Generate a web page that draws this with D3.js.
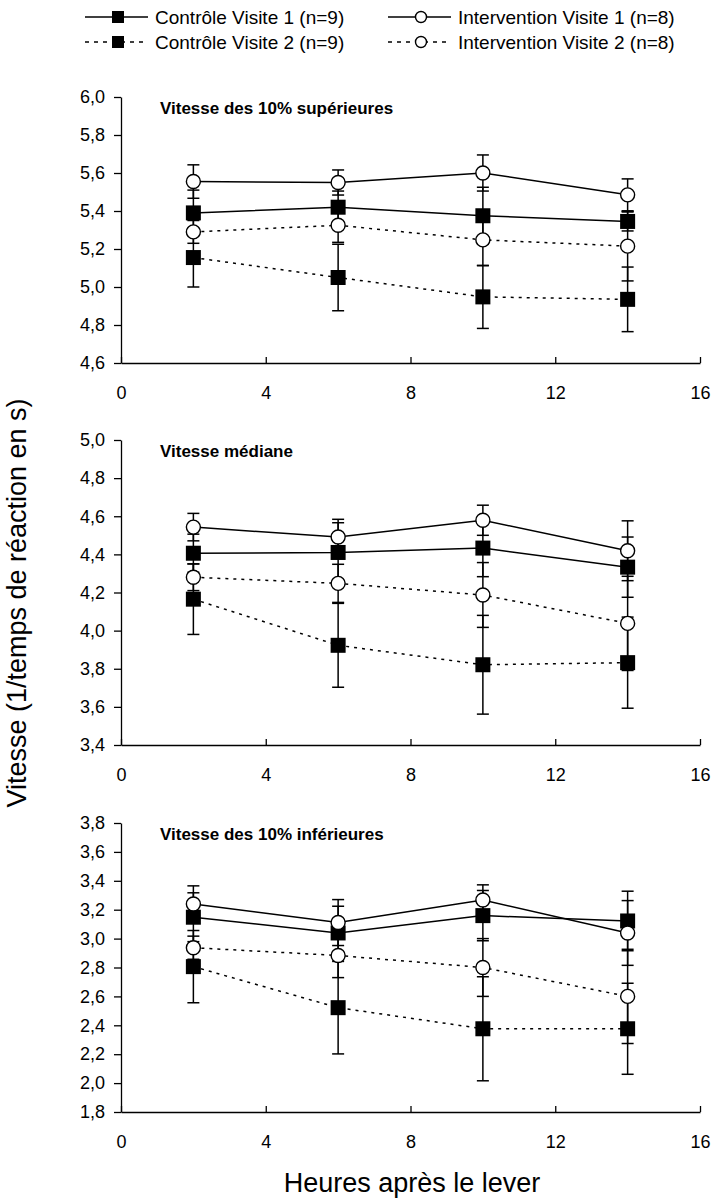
<!DOCTYPE html>
<html>
<head>
<meta charset="utf-8">
<script src="https://cdn.jsdelivr.net/npm/d3@7"></script>
<style>
  body { margin: 0; background: #fff; }
  svg text { font-family: "Liberation Sans", Arial, sans-serif; fill: #000; }
</style>
</head>
<body>
<div id="chart"></div>
<script>
// Hours after waking
const hours = [2, 6, 10, 14];
const xTicks = [0, 4, 8, 12, 16];

const seriesNames = [
    "Contrôle Visite 1 (n=9)",
    "Intervention Visite 1 (n=8)",
    "Contrôle Visite 2 (n=9)",
    "Intervention Visite 2 (n=8)"
];

// Panel 1: fastest 10%
const topCtrlV1 = [5.39, 5.42, 5.375, 5.345];
const topCtrlV1Err = [0.12, 0.085, 0.15, 0.05];
const topIntV1 = [5.555, 5.55, 5.6, 5.485];
const topIntV1Err = [0.088, 0.066, 0.095, 0.084];
const topCtrlV2 = [5.155, 5.05, 4.948, 4.935];
const topCtrlV2Err = [0.155, 0.175, 0.166, 0.17];
const topIntV2 = [5.29, 5.325, 5.248, 5.215];
const topIntV2Err = [0.06, 0.09, 0.136, 0.183];

// Panel 2: median
const medCtrlV1 = [4.406, 4.41, 4.433, 4.333];
const medCtrlV1Err = [0.1, 0.156, 0.15, 0.158];
const medIntV1 = [4.543, 4.491, 4.579, 4.419];
const medIntV1Err = [0.072, 0.093, 0.079, 0.157];
const medCtrlV2 = [4.165, 3.923, 3.821, 3.832];
const medCtrlV2Err = [0.185, 0.22, 0.259, 0.239];
const medIntV2 = [4.28, 4.248, 4.187, 4.038];
const medIntV2Err = [0.07, 0.1, 0.17, 0.247];

// Panel 3: slowest 10%
const lowCtrlV1 = [3.148, 3.039, 3.159, 3.122];
const lowCtrlV1Err = [0.169, 0.185, 0.174, 0.206];
const lowIntV1 = [3.239, 3.111, 3.267, 3.039];
const lowIntV1Err = [0.126, 0.159, 0.105, 0.224];
const lowCtrlV2 = [2.806, 2.522, 2.376, 2.376];
const lowCtrlV2Err = [0.25, 0.32, 0.36, 0.315];
const lowIntV2 = [2.937, 2.883, 2.8, 2.6];
const lowIntV2Err = [0.08, 0.153, 0.2, 0.326];

const panelTitles = ["Vitesse des 10% supérieures", "Vitesse médiane", "Vitesse des 10% inférieures"];
const panelDomains = [[4.6, 6.0], [3.4, 5.0], [1.8, 3.8]];

const panels = [
    { title: panelTitles[0], domain: panelDomains[0], top: 97, bottom: 363,
      series: [[topCtrlV1, topCtrlV1Err], [topIntV1, topIntV1Err], [topCtrlV2, topCtrlV2Err], [topIntV2, topIntV2Err]] },
    { title: panelTitles[1], domain: panelDomains[1], top: 440, bottom: 745,
      series: [[medCtrlV1, medCtrlV1Err], [medIntV1, medIntV1Err], [medCtrlV2, medCtrlV2Err], [medIntV2, medIntV2Err]] },
    { title: panelTitles[2], domain: panelDomains[2], top: 823, bottom: 1112,
      series: [[lowCtrlV1, lowCtrlV1Err], [lowIntV1, lowIntV1Err], [lowCtrlV2, lowCtrlV2Err], [lowIntV2, lowIntV2Err]] }
];

// series styles: square = control, circle = intervention; dashed = visit 2
const styles = [
    { marker: "square", dash: null },
    { marker: "circle", dash: null },
    { marker: "square", dash: "3,5" },
    { marker: "circle", dash: "3,5" }
];

const width = 715, height = 1199;
const svg = d3.select("#chart").append("svg")
    .attr("width", width)
    .attr("height", height);

const xScale = d3.scaleLinear().domain([0, 16]).range([121, 700]);
const fmt = v => d3.format(".1f")(v).replace(".", ",");

function drawMarker(g, type, x, y, size) {
    if (type === "square") {
        g.append("rect")
            .attr("x", x - size / 2).attr("y", y - size / 2)
            .attr("width", size).attr("height", size)
            .attr("fill", "#000");
    } else {
        g.append("circle")
            .attr("cx", x).attr("cy", y).attr("r", size / 2 - 0.5)
            .attr("fill", "#fff")
            .attr("stroke", "#000")
            .attr("stroke-width", 1.4);
    }
}

panels.forEach(p => {
    const yScale = d3.scaleLinear().domain(p.domain).range([p.bottom, p.top]);
    const g = svg.append("g");

    // Y axis
    const nTicks = Math.round((p.domain[1] - p.domain[0]) / 0.2);
    const yTicks = d3.range(nTicks + 1).map(i => +(p.domain[0] + i * 0.2).toFixed(1));
    const yAxis = g.append("g")
        .attr("transform", `translate(${xScale(0)},0)`)
        .call(d3.axisLeft(yScale).tickValues(yTicks).tickSize(7).tickSizeOuter(0).tickPadding(9).tickFormat(fmt));
    yAxis.select(".domain").attr("stroke", "#000").attr("stroke-width", 1.3);
    yAxis.selectAll(".tick line").attr("stroke", "#000").attr("stroke-width", 1.3);
    yAxis.selectAll("text").style("font-size", "18px");

    // X axis
    const xAxis = g.append("g")
        .attr("transform", `translate(0,${p.bottom})`)
        .call(d3.axisBottom(xScale).tickValues(xTicks).tickSize(-6).tickSizeOuter(0).tickPadding(23));
    xAxis.select(".domain").attr("stroke", "#000").attr("stroke-width", 1.3);
    xAxis.selectAll(".tick line").attr("stroke", "#000").attr("stroke-width", 1.3);
    xAxis.selectAll("text").style("font-size", "18px");

    // Panel title
    g.append("text")
        .attr("x", 160)
        .attr("y", p.top + 17)
        .style("font-size", "17px")
        .style("font-weight", "bold")
        .text(p.title);

    // Error bars
    p.series.forEach(([vals, errs]) => {
        vals.forEach((v, i) => {
            const x = xScale(hours[i]);
            const y1 = yScale(v - errs[i]), y2 = yScale(v + errs[i]);
            g.append("line").attr("x1", x).attr("x2", x).attr("y1", y1).attr("y2", y2)
                .attr("stroke", "#000").attr("stroke-width", 1.5);
            [y1, y2].forEach(yy => g.append("line")
                .attr("x1", x - 6).attr("x2", x + 6).attr("y1", yy).attr("y2", yy)
                .attr("stroke", "#000").attr("stroke-width", 1.5));
        });
    });

    // Lines
    const line = d3.line().x((d, i) => xScale(hours[i])).y(d => yScale(d));
    p.series.forEach(([vals], si) => {
        g.append("path")
            .datum(vals)
            .attr("d", line)
            .attr("fill", "none")
            .attr("stroke", "#000")
            .attr("stroke-width", 1.5)
            .attr("stroke-dasharray", styles[si].dash);
    });

    // Markers
    p.series.forEach(([vals], si) => {
        vals.forEach((v, i) => drawMarker(g, styles[si].marker, xScale(hours[i]), yScale(v), 15));
    });
});

// Legend
const legendPos = [
    { x: 85, y: 17 }, { x: 388, y: 17 },
    { x: 85, y: 42 }, { x: 388, y: 42 }
];
seriesNames.forEach((name, i) => {
    const lp = legendPos[i];
    const lg = svg.append("g");
    lg.append("line")
        .attr("x1", lp.x).attr("x2", lp.x + 63)
        .attr("y1", lp.y).attr("y2", lp.y)
        .attr("stroke", "#000").attr("stroke-width", 1.5)
        .attr("stroke-dasharray", i >= 2 ? "4,5" : null);
    drawMarker(lg, styles[i].marker, lp.x + 33, lp.y, 12);
    lg.append("text")
        .attr("x", lp.x + 70)
        .attr("y", lp.y)
        .attr("dy", "0.35em")
        .style("font-size", "19px")
        .text(name);
});

// Axis titles
svg.append("text")
    .attr("x", 412)
    .attr("y", 1192)
    .attr("text-anchor", "middle")
    .style("font-size", "27px")
    .text("Heures après le lever");

svg.append("text")
    .attr("transform", "rotate(-90)")
    .attr("x", -603)
    .attr("y", 26)
    .attr("text-anchor", "middle")
    .style("font-size", "27px")
    .text("Vitesse (1/temps de réaction en s)");
</script>
</body>
</html>
